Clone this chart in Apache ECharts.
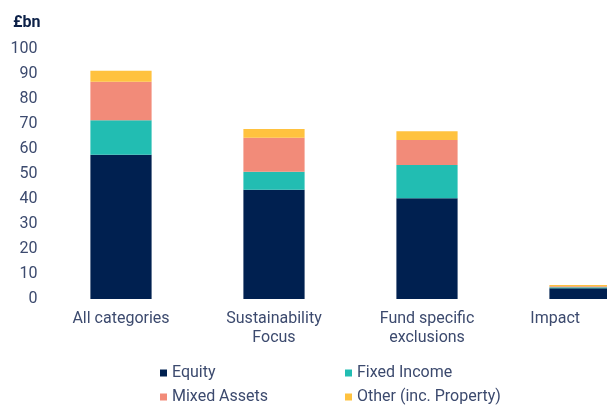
<!DOCTYPE html>
<html><head><meta charset="utf-8">
<script src="https://cdn.jsdelivr.net/npm/echarts@6/dist/echarts.min.js"></script>
<style>html,body{margin:0;padding:0;background:#fff}#c{width:607px;height:406px}</style>
</head><body><div id="c"></div>
<script>
const categories = ['All categories', 'Sustainability\nFocus', 'Fund specific\nexclusions', 'Impact'];
const equity = [57.7, 43.7, 40.3, 4.3];
const fixedIncome = [13.8, 7.2, 13.3, 0.4];
const mixedAssets = [15.4, 13.6, 10.0, 0.4];
const other = [4.4, 3.5, 3.5, 0.5];
const seriesNames = ['Equity', 'Fixed Income', 'Mixed Assets', 'Other (inc. Property)'];
const colors = ['#002050', '#22bdb2', '#f28b79', '#ffc23f'];
const FONT = 'Roboto';
const TXT = '#3c4a6e';
const chart = echarts.init(document.getElementById('c'));
const mk = (name, data, i) => ({
  name, type: 'bar', stack: 'a', data, barWidth: '40%',
  itemStyle: { color: colors[i] }
});
const legPos = [[160, 365], [345, 365], [160, 389], [345, 389]];
chart.setOption({
  animation: false,
  textStyle: { fontFamily: FONT },
  title: { text: '£bn', left: 8, top: 10, textStyle: { fontSize: 16, fontWeight: 'bold', color: '#0d2148', fontFamily: FONT } },
  grid: { left: 44.5, width: 612, top: 49, height: 250, containLabel: false, outerBoundsMode: 'none' },
  legend: seriesNames.map((n, i) => ({
    left: legPos[i][0], top: legPos[i][1], itemWidth: 7, itemHeight: 7, icon: 'rect', padding: 0, itemGap: 0,
    data: [n], textStyle: { fontSize: 16, color: TXT, fontFamily: FONT }
  })),
  xAxis: {
    type: 'category', data: categories,
    axisLine: { show: false }, axisTick: { show: false },
    axisLabel: { fontSize: 16, color: TXT, margin: 10, lineHeight: 19, interval: 0, alignMaxLabel: 'right', fontFamily: FONT }
  },
  yAxis: {
    type: 'value', min: 0, max: 100, interval: 10,
    axisLine: { show: false }, axisTick: { show: false }, splitLine: { show: false },
    axisLabel: { fontSize: 16, color: TXT, margin: 7, fontFamily: FONT }
  },
  series: [mk(seriesNames[0], equity, 0), mk(seriesNames[1], fixedIncome, 1), mk(seriesNames[2], mixedAssets, 2), mk(seriesNames[3], other, 3)]
});
</script></body></html>
